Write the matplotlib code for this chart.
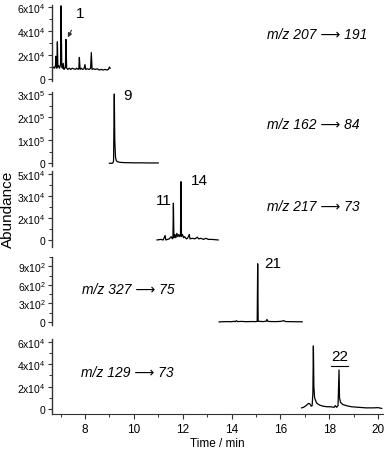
import numpy as np
import matplotlib
matplotlib.use("Agg")
import matplotlib.pyplot as plt
from matplotlib.ticker import MultipleLocator

plt.rcParams['font.family'] = ['Liberation Sans', 'DejaVu Sans']
plt.rcParams['mathtext.fontset'] = 'custom'
plt.rcParams['mathtext.rm'] = 'Liberation Sans'
plt.rcParams['mathtext.it'] = 'Liberation Sans:italic'

##### Trace data (time in min, abundance)

t1 = [6.68, 6.72, 6.76, 6.79, 6.81, 6.83, 6.85, 6.87, 6.89, 6.92, 6.96, 7.00, 7.02, 7.05, 7.08,
      7.11, 7.14, 7.18, 7.20, 7.22, 7.25, 7.30, 7.36, 7.42, 7.48, 7.54, 7.60, 7.66, 7.72, 7.75,
      7.77, 7.80, 7.85, 7.90, 7.96, 8.00, 8.03, 8.10, 8.18, 8.23, 8.26, 8.29, 8.35, 8.42, 8.50,
      8.58, 8.66, 8.74, 8.82, 8.90, 8.96, 9.00, 9.03]
y1 = [0.9, 1.0, 0.9, 1.1, 1.9, 1.0, 0.9, 3.1, 1.0, 1.1, 0.9, 1.2, 6.1, 1.0, 0.9,
      1.3, 0.8, 0.9, 1.0, 3.3, 0.9, 0.8, 0.9, 0.8, 0.9, 0.85, 0.8, 0.9, 0.8, 0.9,
      1.8, 0.8, 0.9, 0.8, 0.85, 1.2, 0.8, 0.85, 0.8, 0.9, 2.2, 0.8, 0.85, 0.8, 0.85,
      0.75, 0.8, 0.75, 0.8, 0.75, 0.8, 1.0, 0.9]

t2 = [9.00, 9.08, 9.14, 9.17, 9.20, 9.22, 9.25, 9.29, 9.35, 9.45, 9.60, 9.80, 10.0, 10.3, 10.6, 11.0]
y2 = [0.0, 0.0, 0.01, 0.1, 3.0, 1.0, 0.25, 0.1, 0.06, 0.04, 0.03, 0.025, 0.02, 0.02, 0.015, 0.015]

t3 = [10.95, 11.10, 11.20, 11.28, 11.31, 11.45, 11.53, 11.58, 11.60, 11.62, 11.64, 11.68, 11.72,
      11.76, 11.80, 11.84, 11.88, 11.91, 11.93, 11.95, 11.99, 12.04, 12.08, 12.15, 12.20, 12.27,
      12.30, 12.40, 12.50, 12.60, 12.65, 12.75, 12.85, 12.95, 13.05, 13.20, 13.45]
y3 = [0.0, 0.05, 0.0, 0.4, 0.0, 0.1, 0.3, 0.1, 0.2, 3.35, 0.2, 0.5, 0.2,
      0.6, 0.3, 0.5, 0.3, 0.4, 5.3, 0.3, 0.5, 0.2, 0.3, 0.1, 0.15, 0.5,
      0.1, 0.15, 0.1, 0.25, 0.1, 0.15, 0.05, 0.15, 0.05, 0.05, 0.0]

t4 = [13.49, 13.80, 14.00, 14.10, 14.15, 14.20, 14.25, 14.40, 14.60, 14.80, 15.00, 15.05, 15.07,
      15.09, 15.20, 15.30, 15.42, 15.45, 15.48, 15.60, 15.80, 16.00, 16.15, 16.20, 16.40, 16.60, 16.89]
y4 = [0, 5, 3, 10, 3, 20, 5, 8, 4, 6, 5, 10, 940,
      10, 8, 5, 12, 40, 10, 6, 5, 8, 20, 6, 4, 3, 2]

t5 = [16.87, 16.95, 17.05, 17.15, 17.21, 17.26, 17.30, 17.33, 17.35, 17.37, 17.40, 17.45, 17.50,
      17.60, 17.75, 17.90, 18.05, 18.20, 18.25, 18.30, 18.36, 18.40, 18.42, 18.46, 18.55, 18.70,
      18.90, 19.20, 19.50, 19.80, 20.00, 20.15]
y5 = [0.1, 0.15, 0.3, 0.5, 0.45, 0.25, 0.3, 1.5, 5.65, 2.0, 1.0, 0.7, 0.5,
      0.35, 0.25, 0.2, 0.2, 0.15, 0.3, 0.15, 0.3, 3.5, 1.0, 0.6, 0.4, 0.3,
      0.2, 0.15, 0.1, 0.1, 0.12, 0.05]

scales = [1e4, 1e5, 1e4, 1, 1e4]
times = [t1, t2, t3, t4, t5]
values = [y1, y2, y3, y4, y5]

ytick_vals = [[0, 2e4, 4e4, 6e4], [0, 1e5, 2e5, 3e5], [0, 2e4, 4e4, 6e4],
              [0, 300, 600, 900], [0, 2e4, 4e4, 6e4]]
ytick_labels = [['0', r'2x10$^4$', r'4x10$^4$', r'6x10$^4$'],
                ['0', r'1x10$^5$', r'2x10$^5$', r'3x10$^5$'],
                ['0', r'2x10$^4$', r'3x10$^4$', r'5x10$^4$'],
                ['0', r'3x10$^2$', r'6x10$^2$', r'9x10$^2$'],
                ['0', r'2x10$^4$', r'4x10$^4$', r'6x10$^4$']]
ylims = [(-0.167e4, 6.17e4), (-0.1e5, 3.1e5), (-0.64e4, 6.27e4), (-50, 1050), (-0.45e4, 6.27e4)]
# pixel extents (top, bottom) of each panel
panel_px = [(6, 82), (92.7, 166.6), (172, 248), (258, 326), (340, 415)]

transitions = [u'm/z 207 \u27f6 191', u'm/z 162 \u27f6 84', u'm/z 217 \u27f6 73',
               u'm/z 327 \u27f6 75', u'm/z 129 \u27f6 73']
trans_pos = [(15.44, 3.75e4), (15.44, 1.70e5), (15.44, 3.1e4), (7.86, 533), (7.84, 3.29e4)]

# label, x, y, panel, horizontal alignment
peak_labels = [('9', 9.58, 2.97e5, 1, 'left'), ('11', 11.57, 3.64e4, 2, 'right'),
               ('14', 12.67, 5.45e4, 2, 'center'), ('21', 15.68, 945, 3, 'center'),
               ('22', 18.42, 4.77e4, 4, 'center')]

W, H = 387, 452
fig = plt.figure(figsize=(W / 100, H / 100), dpi=100)
left, right = 52 / W, 383 / W

axes = []
for i in range(5):
    top, bot = panel_px[i]
    ax = fig.add_axes([left, 1 - bot / H, right - left, (bot - top) / H])
    ax.plot(times[i], np.array(values[i]) * scales[i], color='black', lw=0.9)
    ax.set_xlim(6.65, 20.2)
    ax.set_ylim(*ylims[i])
    ax.set_yticks(ytick_vals[i])
    ax.set_yticklabels(ytick_labels[i], fontsize=7.5)
    ax.yaxis.set_minor_locator(MultipleLocator(ytick_vals[i][1] / 2))
    ax.tick_params(axis='y', which='major', length=3, width=0.8, pad=1.5, color='#333333')
    ax.tick_params(axis='y', which='minor', length=2, width=0.7, color='#333333')
    for s in ['top', 'right']:
        ax.spines[s].set_visible(False)
    ax.spines['left'].set_color('#333333')
    ax.spines['left'].set_linewidth(1.0)
    if i < 4:
        ax.spines['bottom'].set_visible(False)
        ax.set_xticks([])
    else:
        ax.spines['bottom'].set_color('#333333')
        ax.set_xticks([8, 10, 12, 14, 16, 18, 20])
        ax.xaxis.set_minor_locator(MultipleLocator(1))
        ax.tick_params(axis='x', which='major', length=3.5, width=0.8, labelsize=8.5, pad=3,
                       color='#333333')
        ax.tick_params(axis='x', which='minor', length=2, width=0.7, color='#333333')
        ax.set_xlabel('Time / min', fontsize=8.5, labelpad=1.5)
    tx, ty = trans_pos[i]
    ax.text(tx, ty, transitions[i], fontsize=10, style='italic', ha='left', va='center',
            family=['Liberation Sans', 'DejaVu Sans'])
    axes.append(ax)

for txt, x, y, k, align in peak_labels:
    axes[k].text(x, y, txt, fontsize=11, ha=align, va='center')

# peak 1 with an arrow
axes[0].annotate('1', xy=(7.30, 3.47e4), xytext=(7.8, 5.5e4), fontsize=11, ha='center',
                 va='center', arrowprops=dict(arrowstyle='-|>', color='#333333', lw=0.8,
                                              mutation_scale=6, shrinkA=6, shrinkB=0))
# underline below 22
axes[4].plot([18.07, 18.77], [3.85e4, 3.85e4], color='black', lw=0.8)

fig.text(8 / W, 1 - 209 / H, 'Abundance', rotation=90, fontsize=11, ha='center', va='center')

fig.savefig('out.png', dpi=100)
